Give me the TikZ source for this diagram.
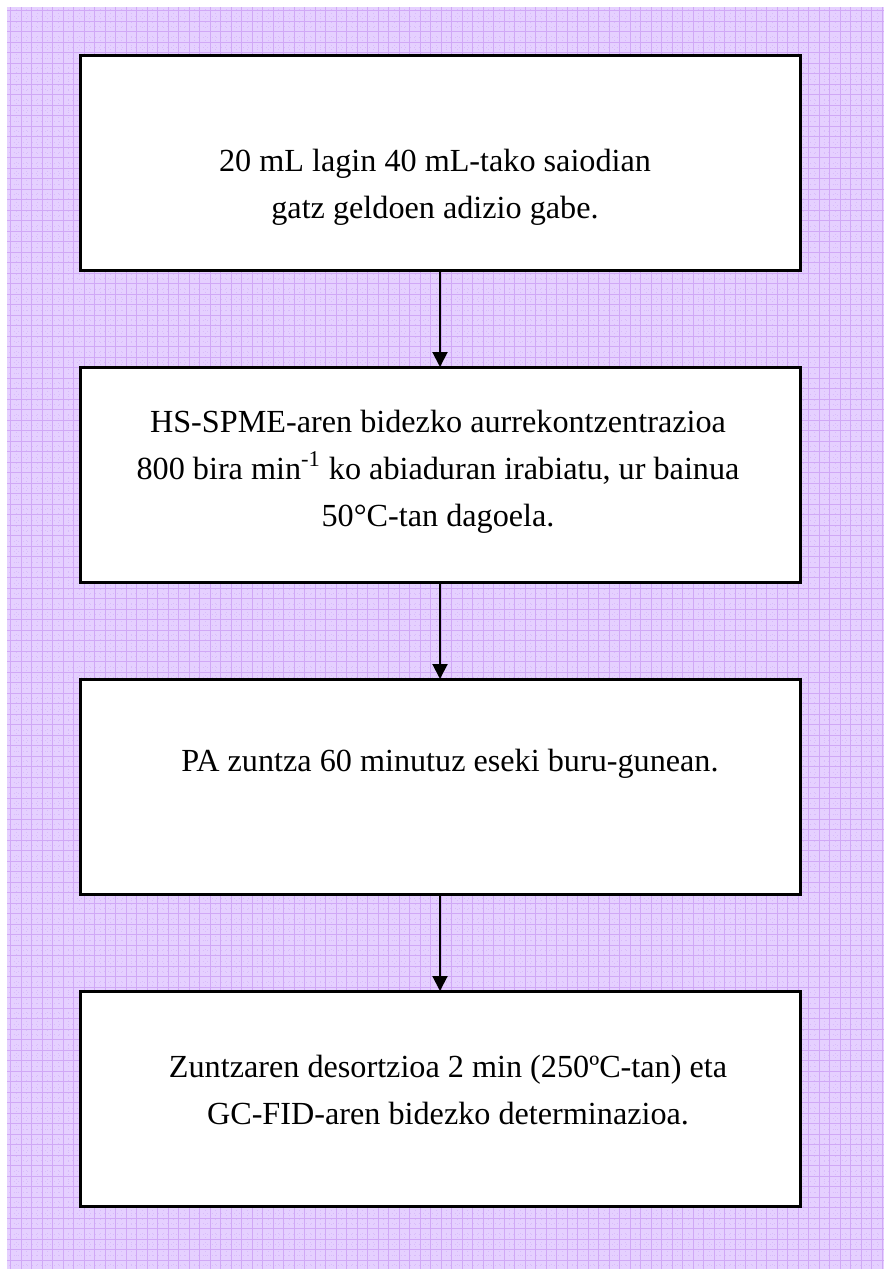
\documentclass[tikz,border=0pt]{standalone}
\usepackage{fontspec}
\setmainfont{Liberation Serif}
\usetikzlibrary{arrows.meta,positioning}
\definecolor{Lilac}{HTML}{E5D0FF}
\definecolor{LilacLine}{HTML}{D0A8F6}
\definecolor{LilacFine}{HTML}{D8BCFA}
\tikzset{
  stepbox/.style={
    draw=black, line width=1.5pt, fill=white, outer sep=0pt,
    minimum width=360pt, minimum height=107.5pt, inner sep=0pt
  },
  steptext/.style={align=center, font=\fontsize{16.1}{23.5}\selectfont},
  flow/.style={-{Triangle[length=7.5pt,width=7.5pt]}, line width=1pt, draw=black}
}
\begin{document}
\begin{tikzpicture}[node distance=48.5pt, x=1pt, y=1pt]
  \useasboundingbox (0,0) rectangle (442,-634.5);
  % squared paper
  \fill[Lilac] (3.5,-3.5) rectangle (442,-634.5);
  \begin{scope}
    \clip (3.5,-3.5) rectangle (442,-634.5);
    \draw[LilacFine, line width=0.25pt, dotted, step=2.625pt] (0,0) grid (442,-634.5);
    \draw[LilacLine, line width=0.4pt, step=5.25pt] (0,0) grid (442,-634.5);
  \end{scope}

  \node[stepbox] (s1) at (220,-81.25) {};
  \node[stepbox, below=of s1] (s2) {};
  \node[stepbox, below=of s2] (s3) {};
  \node[stepbox, below=of s3] (s4) {};

  \node[steptext] (t1) at ([xshift=-2.5pt,yshift=-12.25pt]s1.center)
    {20 mL lagin 40 mL-tako saiodian\\gatz geldoen adizio gabe.};
  \node[steptext] (t2) at ([xshift=-1pt,yshift=1.5pt]s2.center)
    {HS-SPME-aren bidezko aurrekontzentrazioa\\800 bira min\textsuperscript{-1} ko abiaduran irabiatu, ur bainua\\50°C-tan dagoela.};
  \node[steptext] (t3) at ([xshift=5pt,yshift=11.5pt]s3.center)
    {PA zuntza 60 minutuz eseki buru-gunean.};
  \node[steptext] (t4) at ([xshift=4pt,yshift=4.25pt]s4.center)
    {Zuntzaren desortzioa 2 min (250ºC-tan) eta\\GC-FID-aren bidezko determinazioa.};

  \draw[flow] (s1) -- (s2);
  \draw[flow] (s2) -- (s3);
  \draw[flow] (s3) -- (s4);
\end{tikzpicture}
\end{document}
